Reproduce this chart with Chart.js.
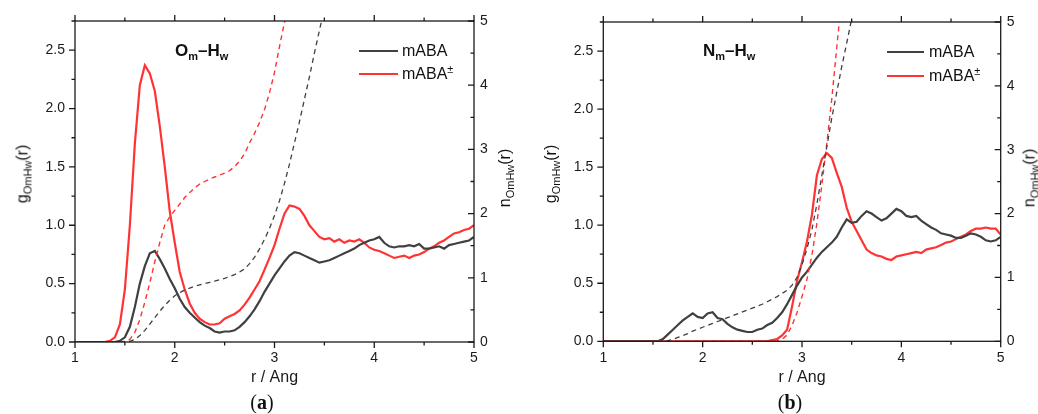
<!DOCTYPE html>
<html>
<head>
<meta charset="utf-8">
<script src="https://cdn.jsdelivr.net/npm/chart.js@4.4.0/dist/chart.umd.min.js"></script>
<style>
body { margin: 0; background: #fff; font-family: "Liberation Sans", Arial, sans-serif; }
#wrap { position: relative; width: 1038px; height: 414px; overflow: hidden; }
canvas { position: absolute; top: 0; }
.t { position: absolute; white-space: nowrap; color: #111; line-height: 18px; }
.yt { position: absolute; font-size: 16px; white-space: nowrap; color: #111;
      transform: translate(-50%, -50%) rotate(-90deg); line-height: 18px; }
.sb { font-size: 11px; position: relative; top: 4px; }
.sp { font-size: 11px; position: relative; top: -6px; }
.lab { font-size: 17px; font-weight: bold; }
.leg { font-size: 16px; }
.ln { position: absolute; height: 2px; }
.pl { position: absolute; font-family: "Liberation Serif", "DejaVu Serif", serif; font-size: 20px;
      transform: translate(-50%, -50%); color: #111; }
</style>
</head>
<body>
<div id="wrap">
  <canvas id="chartA" width="519" height="414" style="left:0"></canvas>
  <canvas id="chartB" width="519" height="414" style="left:519px"></canvas>

  <div class="yt" style="left:23px;top:174px">g<span class="sb">OmHw</span>(r)</div>
  <div class="yt" style="left:505px;top:178px">n<span class="sb">OmHw</span>(r)</div>
  <div class="yt" style="left:551px;top:174px">g<span class="sb">OmHw</span>(r)</div>
  <div class="yt" style="left:1030px;top:178px">n<span class="sb">OmHw</span>(r)</div>

  <div class="t lab" style="left:175px;top:42px">O<span class="sb">m</span>–H<span class="sb">w</span></div>
  <div class="t lab" style="left:703px;top:42px">N<span class="sb">m</span>–H<span class="sb">w</span></div>

  <div class="ln" style="left:359px;top:50px;width:39px;background:#404040"></div>
  <div class="t leg" style="left:402px;top:42px">mABA</div>
  <div class="ln" style="left:359px;top:73px;width:39px;background:#ff3333"></div>
  <div class="t leg" style="left:402px;top:65px">mABA<span class="sp">±</span></div>

  <div class="ln" style="left:887px;top:51px;width:37px;background:#404040"></div>
  <div class="t leg" style="left:929px;top:43px">mABA</div>
  <div class="ln" style="left:887px;top:75px;width:37px;background:#ff3333"></div>
  <div class="t leg" style="left:929px;top:67px">mABA<span class="sp">±</span></div>

  <div class="pl" style="left:262px;top:402px">(<b>a</b>)</div>
  <div class="pl" style="left:790px;top:402px">(<b>b</b>)</div>
</div>
<script>
// r grid (Angstrom)
var R = [
  1.00,1.05,1.10,1.15,1.20,1.25,1.30,1.35,1.40,1.45,
  1.50,1.55,1.60,1.65,1.70,1.75,1.80,1.85,1.90,1.95,
  2.00,2.05,2.10,2.15,2.20,2.25,2.30,2.35,2.40,2.45,
  2.50,2.55,2.60,2.65,2.70,2.75,2.80,2.85,2.90,2.95,
  3.00,3.05,3.10,3.15,3.20,3.25,3.30,3.35,3.40,3.45,
  3.50,3.55,3.60,3.65,3.70,3.75,3.80,3.85,3.90,3.95,
  4.00,4.05,4.10,4.15,4.20,4.25,4.30,4.35,4.40,4.45,
  4.50,4.55,4.60,4.65,4.70,4.75,4.80,4.85,4.90,4.95,
  5.00];

// (a) Om-Hw
var gOmMol = [
  0,0,0,0,0,0,0,0,0,0.01,
  0.04,0.13,0.3,0.5,0.65,0.76,0.78,0.71,0.63,0.54,
  0.46,0.37,0.3,0.25,0.21,0.17,0.14,0.12,0.09,0.08,
  0.09,0.09,0.1,0.13,0.17,0.22,0.28,0.35,0.43,0.5,
  0.57,0.63,0.69,0.74,0.77,0.76,0.74,0.72,0.7,0.68,
  0.69,0.7,0.72,0.74,0.76,0.78,0.8,0.83,0.85,0.87,
  0.88,0.9,0.85,0.82,0.81,0.82,0.82,0.83,0.82,0.84,
  0.8,0.8,0.81,0.82,0.8,0.83,0.84,0.85,0.86,0.87,
  0.9];
var gOmIon = [
  0,0,0,0,0,0,0,0.01,0.04,0.15,
  0.45,1.0,1.7,2.2,2.37,2.3,2.15,1.85,1.5,1.12,
  0.85,0.6,0.45,0.33,0.25,0.2,0.17,0.15,0.15,0.16,
  0.2,0.22,0.24,0.27,0.32,0.38,0.45,0.52,0.62,0.72,
  0.83,0.97,1.1,1.17,1.16,1.14,1.08,1.0,0.95,0.9,
  0.88,0.89,0.86,0.88,0.85,0.87,0.86,0.88,0.85,0.81,
  0.79,0.78,0.76,0.74,0.72,0.73,0.74,0.72,0.74,0.75,
  0.77,0.8,0.82,0.85,0.87,0.9,0.93,0.94,0.96,0.97,
  1.0];
var nOmMol = [
  0,0,0,0,0,0,0,0,0,0,
  0,0.01,0.04,0.1,0.18,0.28,0.38,0.48,0.57,0.65,
  0.72,0.77,0.81,0.84,0.87,0.89,0.91,0.93,0.95,0.97,
  0.99,1.02,1.05,1.09,1.14,1.22,1.32,1.45,1.6,1.77,
  1.97,2.2,2.47,2.77,3.1,3.43,3.78,4.13,4.5,4.85,
  5.2,5.6,null,null,null,null,null,null,null,null,
  null,null,null,null,null,null,null,null,null,null,
  null,null,null,null,null,null,null,null,null,null,
  null];
var nOmIon = [
  0,0,0,0,0,0,0,0,0,0,
  0.01,0.04,0.15,0.35,0.62,0.92,1.25,1.55,1.82,1.95,
  2.05,2.15,2.25,2.33,2.4,2.46,2.5,2.54,2.57,2.6,
  2.63,2.67,2.73,2.82,2.93,3.1,3.25,3.42,3.62,3.88,
  4.2,4.6,4.98,5.4,5.9,null,null,null,null,null,
  null,null,null,null,null,null,null,null,null,null,
  null,null,null,null,null,null,null,null,null,null,
  null,null,null,null,null,null,null,null,null,null,
  null];

// (b) Nm-Hw
var gNmMol = [
  0,0,0,0,0,0,0,0,0,0,
  0,0,0.02,0.06,0.1,0.14,0.18,0.21,0.24,0.21,
  0.2,0.24,0.25,0.2,0.19,0.15,0.12,0.1,0.09,0.08,
  0.08,0.1,0.11,0.14,0.16,0.2,0.25,0.32,0.4,0.48,
  0.55,0.6,0.66,0.72,0.77,0.81,0.85,0.9,0.98,1.05,
  1.02,1.03,1.08,1.12,1.1,1.07,1.04,1.06,1.1,1.14,
  1.12,1.08,1.07,1.08,1.04,1.01,0.98,0.96,0.93,0.92,
  0.91,0.89,0.89,0.91,0.93,0.92,0.9,0.87,0.86,0.87,
  0.9];
var gNmIon = [
  0,0,0,0,0,0,0,0,0,0,
  0,0,0,0,0,0,0,0,0,0,
  0,0,0,0,0,0,0,0,0,0,
  0,0,0,0,0.01,0.02,0.05,0.1,0.3,0.52,
  0.68,0.86,1.09,1.43,1.57,1.62,1.58,1.45,1.33,1.15,
  1.03,0.95,0.87,0.79,0.76,0.74,0.73,0.71,0.7,0.73,
  0.74,0.75,0.76,0.77,0.76,0.79,0.8,0.81,0.83,0.85,
  0.86,0.88,0.9,0.92,0.95,0.97,0.97,0.98,0.97,0.97,
  0.92];
var nNmMol = [
  0,0,0,0,0,0,0,0,0,0,
  0,0,0,0.01,0.03,0.06,0.09,0.12,0.16,0.19,
  0.22,0.25,0.28,0.31,0.34,0.37,0.4,0.43,0.46,0.49,
  0.52,0.55,0.58,0.62,0.66,0.7,0.75,0.8,0.88,1.0,
  1.2,1.45,1.75,2.15,2.6,3.05,3.5,3.9,4.3,4.67,
  5.05,5.45,null,null,null,null,null,null,null,null,
  null,null,null,null,null,null,null,null,null,null,
  null,null,null,null,null,null,null,null,null,null,
  null];
var nNmIon = [
  0,0,0,0,0,0,0,0,0,0,
  0,0,0,0,0,0,0,0,0,0,
  0,0,0,0,0,0,0,0,0,0,
  0,0,0,0,0,0.01,0.03,0.1,0.25,0.45,
  0.7,0.97,1.35,1.85,2.45,3.1,3.8,4.6,5.4,null,
  null,null,null,null,null,null,null,null,null,null,
  null,null,null,null,null,null,null,null,null,null,
  null,null,null,null,null,null,null,null,null,null,
  null];

var BLACK = '#404040';
var RED = '#ff3333';
var FONT = 'Liberation Sans, Arial, sans-serif';

function pts(arr) {
  return R.map(function (r, i) { return { x: r, y: arr[i] }; });
}

// frame + minor/major ticks, placed through the chart scales
var frameTicks = {
  id: 'frameTicks',
  afterDraw: function (chart) {
    var ctx = chart.ctx, a = chart.chartArea, s = chart.scales;
    ctx.save();
    ctx.strokeStyle = '#1a1a1a';
    ctx.lineWidth = 1.3;
    ctx.strokeRect(a.left, a.top, a.right - a.left, a.bottom - a.top);
    ctx.beginPath();
    var v, p, len;
    for (v = 1; v <= 5.001; v += 0.5) {
      p = s.x.getPixelForValue(v);
      len = Math.abs(v - Math.round(v)) < 0.01 ? 6 : 3.5;
      ctx.moveTo(p, a.bottom); ctx.lineTo(p, a.bottom + len);
      ctx.moveTo(p, a.top); ctx.lineTo(p, a.top - len);
    }
    for (v = 0; v <= 2.751; v += 0.25) {
      p = s.y.getPixelForValue(v);
      len = Math.abs(v * 2 - Math.round(v * 2)) < 0.01 ? 6 : 3.5;
      ctx.moveTo(a.left, p); ctx.lineTo(a.left - len, p);
    }
    for (v = 0; v <= 5.001; v += 0.5) {
      p = s.y2.getPixelForValue(v);
      len = Math.abs(v - Math.round(v)) < 0.01 ? 6 : 3.5;
      ctx.moveTo(a.right, p); ctx.lineTo(a.right - len, p);
    }
    ctx.stroke();
    ctx.restore();
  }
};

function makeChart(id, gMol, gIon, nMol, nIon, geo) {
  return new Chart(document.getElementById(id), {
    type: 'line',
    data: {
      datasets: [
        { data: pts(nMol), yAxisID: 'y2', borderColor: BLACK, borderWidth: 1.3, borderDash: [5, 4] },
        { data: pts(nIon), yAxisID: 'y2', borderColor: RED, borderWidth: 1.4, borderDash: [5, 4] },
        { data: pts(gMol), yAxisID: 'y', borderColor: BLACK, borderWidth: 2.2 },
        { data: pts(gIon), yAxisID: 'y', borderColor: RED, borderWidth: 2.2 }
      ]
    },
    options: {
      responsive: false,
      animation: false,
      elements: { point: { radius: 0 }, line: { tension: 0 } },
      layout: { padding: { top: geo.top, left: 0, right: 0, bottom: 0 } },
      plugins: { legend: { display: false }, tooltip: { enabled: false } },
      scales: {
        x: {
          type: 'linear', min: 1, max: 5,
          grid: { display: false, drawTicks: false }, border: { display: false },
          ticks: { stepSize: 1, padding: 8, color: '#1a1a1a', font: { family: FONT, size: 14 } },
          title: { display: true, text: 'r / Ang', color: '#1a1a1a',
                   font: { family: FONT, size: 16 }, padding: { top: 0, bottom: 27 } },
          afterFit: function (sc) { sc.height = geo.bottom; }
        },
        y: {
          position: 'left', min: 0, max: 2.75,
          grid: { display: false, drawTicks: false }, border: { display: false },
          ticks: { stepSize: 0.5, includeBounds: false, padding: 10, color: '#1a1a1a',
                   font: { family: FONT, size: 14 },
                   callback: function (v) { return v.toFixed(1); } },
          afterFit: function (sc) { sc.width = geo.left; }
        },
        y2: {
          position: 'right', min: 0, max: 5,
          grid: { display: false, drawTicks: false }, border: { display: false },
          ticks: { stepSize: 1, padding: 6, color: '#1a1a1a', font: { family: FONT, size: 14 } },
          afterFit: function (sc) { sc.width = geo.right; }
        }
      }
    },
    plugins: [frameTicks]
  });
}

makeChart('chartA', gOmMol, gOmIon, nOmMol, nOmIon, { top: 21, bottom: 72, left: 75, right: 45 });
makeChart('chartB', gNmMol, gNmIon, nNmMol, nNmIon, { top: 22, bottom: 72.7, left: 84.3, right: 37.3 });
</script>
</body>
</html>
